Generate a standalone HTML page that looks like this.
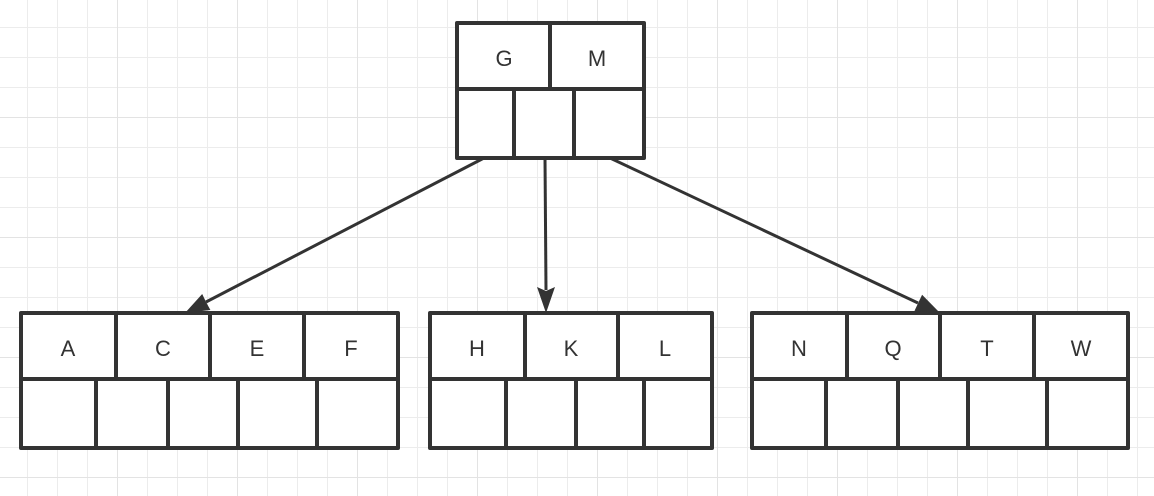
<!DOCTYPE html>
<html><head><style>
html,body{margin:0;padding:0;background:#fff;}
svg{display:block;}
</style></head><body>
<svg width="1154" height="496" xmlns="http://www.w3.org/2000/svg">
<defs>
<pattern id="g" width="30" height="30" patternUnits="userSpaceOnUse" x="27" y="27">
<path d="M0 0H30M0 0V30" stroke="#ececec" stroke-width="2" fill="none"/>
</pattern>
<pattern id="G" width="120" height="120" patternUnits="userSpaceOnUse" x="117" y="117">
<path d="M0 0H120M0 0V120" stroke="#e3e3e3" stroke-width="2" fill="none"/>
</pattern>
</defs>
<rect width="1154" height="496" fill="url(#g)"/>
<rect width="1154" height="496" fill="url(#G)"/>
<g stroke="#333" stroke-width="3" fill="none">
<line x1="484" y1="158" x2="206" y2="302"/>
<line x1="545" y1="158" x2="546" y2="290"/>
<line x1="610" y1="158" x2="918" y2="303"/>
</g>
<g stroke="#333" stroke-width="4" fill="#fff" stroke-linejoin="round">
<rect x="457" y="23" width="187" height="135"/>
<rect x="21" y="313" width="377" height="135"/>
<rect x="430" y="313" width="282" height="135"/>
<rect x="752" y="313" width="376" height="135"/>
</g>
<g stroke="#333" stroke-width="4">
<path d="M457 89H644M550 23V89M514 89V158M574 89V158"/>
<path d="M21 379H398M116 313V379M210 313V379M304 313V379M96 379V448M168 379V448M238 379V448M317 379V448"/>
<path d="M430 379H712M525 313V379M618 313V379M506 379V448M576 379V448M644 379V448"/>
<path d="M752 379H1128M847 313V379M940 313V379M1034 313V379M826 379V448M898 379V448M968 379V448M1047 379V448"/>
</g>
<g fill="#333">
<path d="M185 313L210.4 310L206 302L202.2 294Z"/>
<path d="M546 313L537 287L546 291L555 287Z"/>
<path d="M940 313L914.5 310.9L918.3 302.8L922.1 294.7Z"/>
</g>
<g font-family="Liberation Sans, sans-serif" font-size="22" fill="#333" text-anchor="middle">
<text x="504" y="66">G</text><text x="597" y="66">M</text>
<text x="68" y="356">A</text><text x="163" y="356">C</text><text x="257" y="356">E</text><text x="351" y="356">F</text>
<text x="477" y="356">H</text><text x="571" y="356">K</text><text x="665" y="356">L</text>
<text x="799" y="356">N</text><text x="893" y="356">Q</text><text x="987" y="356">T</text><text x="1081" y="356">W</text>
</g>
</svg>
</body></html>
